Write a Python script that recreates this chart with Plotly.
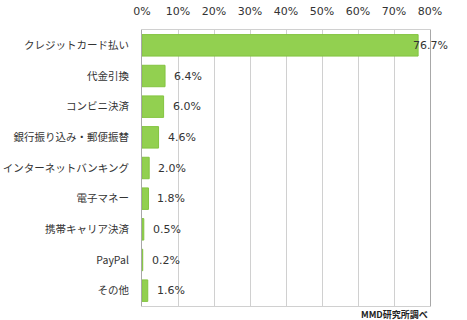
import plotly.graph_objects as go

categories = ["クレジットカード払い", "代金引換", "コンビニ決済", "銀行振り込み・郵便振替",
              "インターネットバンキング", "電子マネー", "携帯キャリア決済", "PayPal", "その他"]
values = [76.7, 6.4, 6.0, 4.6, 2.0, 1.8, 0.5, 0.2, 1.6]
value_labels = ["76.7%", "6.4%", "6.0%", "4.6%", "2.0%", "1.8%", "0.5%", "0.2%", "1.6%"]
x_ticks = [0, 10, 20, 30, 40, 50, 60, 70, 80]

JP = "Noto Sans CJK JP"
NUM = "DejaVu Sans"

fig = go.Figure()
fig.add_trace(go.Bar(
    x=values, y=categories, orientation="h",
    marker=dict(color="#92D050", line=dict(color="#84c440", width=1)),
    width=0.7, hoverinfo="skip",
))

for i, (v, lab) in enumerate(zip(values, value_labels)):
    fig.add_annotation(
        x=v, y=categories[i], text=lab, showarrow=False,
        xanchor="left", xshift=(-7 if v > 50 else 7),
        font=dict(family=NUM, size=11, color="#333333"),
    )

fig.add_annotation(
    x=1, y=0, xref="paper", yref="paper", xanchor="right", yanchor="top",
    yshift=0, showarrow=False,
    text="<b>MMD研究所調べ</b>",
    font=dict(family=JP, size=9, color="#222222"),
)

fig.update_layout(
    width=467, height=320,
    margin=dict(l=142, r=37, t=30, b=14, autoexpand=False),
    paper_bgcolor="white", plot_bgcolor="white",
    showlegend=False,
    xaxis=dict(
        side="top", range=[0, 80], tickvals=x_ticks,
        ticktext=[f"{t}%" for t in x_ticks],
        showgrid=True, gridcolor="#d0d0d0", gridwidth=1,
        showline=True, linecolor="#d0d0d0", mirror=True,
        zeroline=False, ticks="", ticklen=0, ticklabelstandoff=10,
        automargin=False,
        tickfont=dict(family=NUM, size=11, color="#333333"),
        fixedrange=True,
    ),
    yaxis=dict(
        autorange="reversed",
        showline=True, linecolor="#a8a8a8", mirror=True,
        showgrid=False, ticks="", ticklabelstandoff=10,
        automargin=False,
        tickfont=dict(family=JP, size=10.5, color="#333333"),
        fixedrange=True,
    ),
)

fig.write_html("out.html")
